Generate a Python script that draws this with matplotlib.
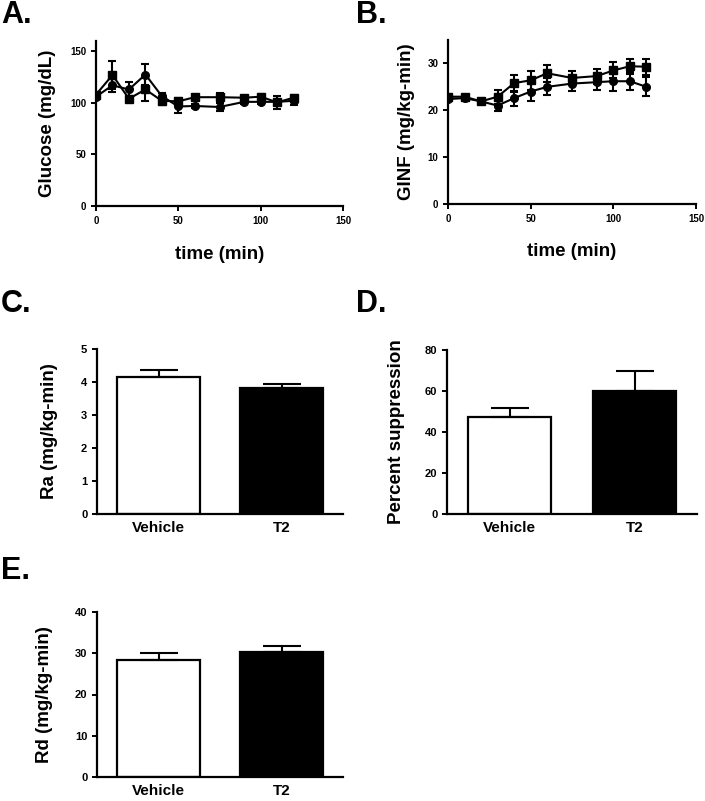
import matplotlib
matplotlib.use("Agg")
import matplotlib.pyplot as plt
import numpy as np

plt.rcParams["font.family"] = ["Liberation Sans", "DejaVu Sans"]
plt.rcParams["font.weight"] = "bold"
plt.rcParams["axes.labelweight"] = "bold"

# time course data
time = [0, 10, 20, 30, 40, 50, 60, 75, 90, 100, 110, 120]

glucose_sq = [108, 127, 104, 113, 102, 101.5, 105.5, 105.5, 105, 106, 100.5, 105]
glucose_sq_err = [2, 13.5, 2.5, 11, 4, 3, 2, 4, 2, 3, 6, 3]
glucose_ci = [106, 117, 113, 127.5, 106.5, 96.5, 97, 96, 101, 101, 101, 102]
glucose_ci_err = [2, 6.5, 7.5, 10, 3, 6.5, 2, 4, 2, 2, 3, 4]

ginf_sq = [22.9, 22.9, 21.9, 22.9, 25.8, 26.4, 27.9, 26.9, 27.3, 28.5, 29.4, 29.3]
ginf_sq_err = [0.3, 0.3, 0.5, 1.5, 1.8, 2.0, 1.8, 1.5, 1.6, 1.7, 1.6, 1.7]
ginf_ci = [22.4, 22.6, 21.9, 21.0, 22.6, 24.0, 25.0, 25.7, 26.0, 26.2, 26.2, 25.0]
ginf_ci_err = [0.4, 0.3, 0.4, 1.2, 1.6, 2.0, 1.8, 1.5, 1.6, 2.0, 1.9, 2.0]

# bar data
groups = ["Vehicle", "T2"]
ra_mean = [4.15, 3.83]
ra_err = [0.22, 0.12]
supp_mean = [47.5, 60.0]
supp_err = [4.0, 9.8]
rd_mean = [28.4, 30.3]
rd_err = [1.6, 1.4]

W, H = 705, 801
fig = plt.figure(figsize=(W / 100, H / 100), dpi=100)


def make_axes(x0, x1, ytop, ybot):
    return fig.add_axes([x0 / W, 1 - ybot / H, (x1 - x0) / W, (ybot - ytop) / H])


def style(ax):
    for s in ["top", "right"]:
        ax.spines[s].set_visible(False)
    for s in ["left", "bottom"]:
        ax.spines[s].set_linewidth(1.6)
    ax.tick_params(width=1.4, length=3.5, labelsize=7, direction="out")
    for lab in ax.get_xticklabels() + ax.get_yticklabels():
        lab.set_fontweight("bold")


def time_panel(ax, ys, es, yc, ec, ylim, yticks, ylabel, lx):
    kw = dict(color="black", lw=1.5, elinewidth=1.5, capsize=3, capthick=1.5, markersize=5.5)
    ax.errorbar(time, yc, yerr=ec, marker="o", **kw)
    ax.errorbar(time, ys, yerr=es, marker="s", **kw)
    ax.set_xlim(0, 150)
    ax.set_ylim(*ylim)
    ax.set_xticks([0, 50, 100, 150])
    ax.set_yticks(yticks)
    style(ax)
    ax.set_xlabel("time (min)", fontsize=13.5)
    ax.set_ylabel(ylabel, fontsize=13.5)
    ax.xaxis.set_label_coords(0.5, -0.24)
    ax.yaxis.set_label_coords(lx, 0.5)


def bar_panel(ax, means, errs, ylim, yticks, ylabel, lx):
    x = np.arange(len(groups))
    ax.bar(x, means, width=0.67, color=["white", "black"], edgecolor="black", linewidth=1.6)
    ax.errorbar(x, means, yerr=[[0] * len(errs), errs], fmt="none", ecolor="black",
                elinewidth=1.5, capsize=14, capthick=1.5)
    ax.set_xlim(-0.5, 1.5)
    ax.set_ylim(*ylim)
    ax.set_yticks(yticks)
    ax.set_xticks(x)
    ax.set_xticklabels(groups)
    style(ax)
    ax.tick_params(axis="y", labelsize=8)
    ax.tick_params(axis="x", length=0, labelsize=11, pad=5)
    ax.set_ylabel(ylabel, fontsize=13.5)
    ax.yaxis.set_label_coords(lx, 0.5)


axA = make_axes(96, 343, 41, 206)
time_panel(axA, glucose_sq, glucose_sq_err, glucose_ci, glucose_ci_err,
           (0, 160), [0, 50, 100, 150], "Glucose (mg/dL)", -0.162)

axB = make_axes(448, 696, 40, 204)
time_panel(axB, ginf_sq, ginf_sq_err, ginf_ci, ginf_ci_err,
           (0, 35), [0, 10, 20, 30], "GINF (mg/kg-min)", -0.133)

axC = make_axes(97, 343, 349, 514)
bar_panel(axC, ra_mean, ra_err, (0, 5), [0, 1, 2, 3, 4, 5], "Ra (mg/kg-min)", -0.159)

axD = make_axes(447, 697, 350, 514)
bar_panel(axD, supp_mean, supp_err, (0, 80), [0, 20, 40, 60, 80], "Percent suppression", -0.168)

axE = make_axes(97, 343, 612, 777)
bar_panel(axE, rd_mean, rd_err, (0, 40), [0, 10, 20, 30, 40], "Rd (mg/kg-min)", -0.179)

for letter, px, py in [("A.", 1, 0), ("B.", 356, 0), ("C.", 1, 289), ("D.", 356, 289), ("E.", 1, 556)]:
    fig.text(px / W, 1 - py / H, letter, fontsize=22, fontweight="bold", ha="left", va="top")

fig.savefig("out.png", dpi=100)
